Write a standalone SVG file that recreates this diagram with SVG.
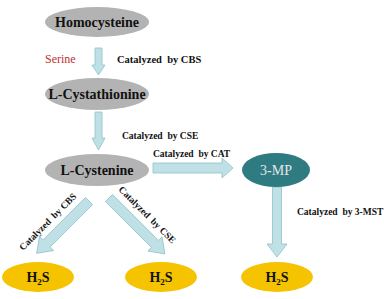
<svg xmlns="http://www.w3.org/2000/svg" width="384" height="299" viewBox="0 0 384 299">
<style>
.gray{fill:#b3b3b3}
.gold{fill:#f5c300}
.teal{fill:#2e7b81}
.arr{fill:#bfe1e6;stroke:#8fc2c9;stroke-width:0.8}
.lbl{font-family:"Liberation Serif","Times New Roman",serif;font-weight:bold;font-size:14px;fill:#111;text-anchor:middle}
.cat{font-family:"Liberation Serif","Times New Roman",serif;font-weight:bold;font-size:9.5px;fill:#111;white-space:pre}
</style>
<rect width="384" height="299" fill="#fff"/>
<g id="connectors">
<path class="arr" transform="translate(98.5,48) rotate(90)" d="M0,-3.5 L17,-3.5 L17,-6.5 L27,0 L17,6.5 L17,3.5 L0,3.5 Z"/>
<path class="arr" transform="translate(98.5,112) rotate(90)" d="M0,-3.5 L26,-3.5 L26,-6.5 L38,0 L26,6.5 L26,3.5 L0,3.5 Z"/>
<path class="arr" transform="translate(153,168)" d="M0,-5 L69,-5 L69,-10 L80,0 L69,10 L69,5 L0,5 Z"/>
<path class="arr" transform="translate(277,187) rotate(90)" d="M0,-4.5 L57,-4.5 L57,-10 L70,0 L57,10 L57,4.5 L0,4.5 Z"/>
<path class="arr" transform="translate(89,201) rotate(135)" d="M0,-5 L60,-5 L60,-10 L74,0 L60,10 L60,5 L0,5 Z"/>
<path class="arr" transform="translate(109,198) rotate(45)" d="M0,-5 L65,-5 L65,-10 L79,0 L65,10 L65,5 L0,5 Z"/>
<text x="45" y="63" font-family="Liberation Serif,Times New Roman,serif" font-size="12" fill="#c0322f">Serine</text>
<text class="cat" x="117" y="63" style="font-size:10.5px">Catalyzed  by CBS</text>
<text class="cat" x="122" y="139">Catalyzed  by CSE</text>
<text class="cat" x="153" y="157">Catalyzed  by CAT</text>
<text class="cat" x="297" y="215">Catalyzed  by 3-MST</text>
<text class="cat" transform="translate(50,224) rotate(-45)" text-anchor="middle">Catalyzed  by CBS</text>
<text class="cat" transform="translate(145,217) rotate(45)" text-anchor="middle">Catalyzed  by CSE</text>
</g>
<g id="homocysteine">
<ellipse class="gray" cx="97" cy="22" rx="52" ry="15"/>
<text class="lbl" x="97" y="27">Homocysteine</text>
</g>
<g id="cystathionine">
<ellipse class="gray" cx="97" cy="94" rx="52" ry="16"/>
<text class="lbl" x="97" y="99">L-Cystathionine</text>
</g>
<g id="cysteine">
<ellipse class="gray" cx="97" cy="170" rx="52" ry="16"/>
<text class="lbl" x="97" y="175">L-Cystenine</text>
</g>
<g id="mp">
<ellipse class="teal" cx="276" cy="170" rx="34" ry="17"/>
<text class="lbl" x="276" y="175" style="font-weight:normal;fill:#e6e6e6">3-MP</text>
</g>
<g id="h2s-1">
<ellipse class="gold" cx="38" cy="277" rx="36" ry="15"/>
<text class="lbl" x="38" y="282">H<tspan font-size="9" dy="3">2</tspan><tspan dy="-3">S</tspan></text>
</g>
<g id="h2s-2">
<ellipse class="gold" cx="161" cy="277" rx="36" ry="15"/>
<text class="lbl" x="161" y="282">H<tspan font-size="9" dy="3">2</tspan><tspan dy="-3">S</tspan></text>
</g>
<g id="h2s-3">
<ellipse class="gold" cx="277" cy="277" rx="36" ry="15"/>
<text class="lbl" x="277" y="282">H<tspan font-size="9" dy="3">2</tspan><tspan dy="-3">S</tspan></text>
</g>
</svg>
